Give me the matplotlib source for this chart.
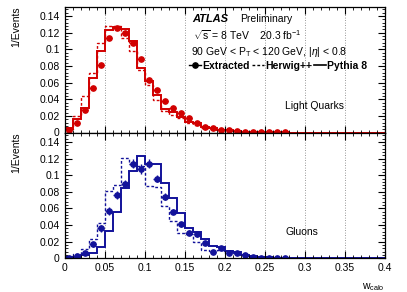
import numpy as np
import matplotlib
matplotlib.use("Agg")
import matplotlib.pyplot as plt
from matplotlib.lines import Line2D
from matplotlib.ticker import MultipleLocator, FuncFormatter

plt.rcParams['font.family'] = ['Liberation Sans', 'DejaVu Sans']
plt.rcParams['mathtext.fontset'] = 'custom'
plt.rcParams['mathtext.rm'] = 'Liberation Sans'
plt.rcParams['mathtext.it'] = 'Liberation Sans:italic'
plt.rcParams['mathtext.bf'] = 'Liberation Sans:bold'

# bins de w_calo: 40 bins de 0 a 0.4
edges = np.linspace(0, 0.4, 41)

# quarks leves
quark_pythia = [0.005, 0.016, 0.030, 0.065, 0.098, 0.123, 0.1265, 0.124, 0.1095, 0.077,
                0.062, 0.045, 0.028, 0.025, 0.019, 0.013, 0.011, 0.007, 0.005, 0.003,
                0.0025, 0.0015, 0.001, 0.0008, 0.0005, 0.0003, 0.0002, 0.0001, 0, 0,
                0, 0, 0, 0, 0, 0, 0, 0, 0, 0]
quark_herwig = [0.004, 0.020, 0.044, 0.072, 0.108, 0.128, 0.128, 0.113, 0.098, 0.075,
                0.057, 0.039, 0.026, 0.021, 0.018, 0.011, 0.009, 0.006, 0.004, 0.003,
                0.002, 0.0015, 0.001, 0.0006, 0.0004, 0.0003, 0.0002, 0.0001, 0, 0,
                0, 0, 0, 0, 0, 0, 0, 0, 0, 0]
quark_data = [0.003, 0.012, 0.027, 0.053, 0.081, 0.113, 0.125, 0.120, 0.108, 0.088,
              0.063, 0.051, 0.038, 0.029, 0.023, 0.017, 0.012, 0.007, 0.005, 0.003,
              0.0025, 0.0015, 0.001, 0.0008, 0.0006, 0.0004, 0.0003, 0.0002]
quark_err = [0.001, 0.0012, 0.0015, 0.0015, 0.0015, 0.0015, 0.0015, 0.0015, 0.0015, 0.0015,
             0.0015, 0.0012, 0.0012, 0.001, 0.001, 0.001, 0.001, 0.001, 0.0008, 0.0008,
             0.0005, 0.0005, 0.0005, 0.0005, 0.0003, 0.0003, 0.0003, 0.0003]

# gluons
gluon_pythia = [0.001, 0.002, 0.004, 0.006, 0.013, 0.033, 0.056, 0.085, 0.105, 0.123,
                0.114, 0.114, 0.091, 0.072, 0.054, 0.037, 0.032, 0.023, 0.015, 0.013,
                0.009, 0.007, 0.004, 0.003, 0.002, 0.001, 0.0005, 0.0003, 0, 0,
                0, 0, 0, 0, 0, 0, 0, 0, 0, 0]
gluon_herwig = [0.002, 0.005, 0.011, 0.023, 0.042, 0.081, 0.088, 0.121, 0.114, 0.111,
                0.087, 0.086, 0.063, 0.045, 0.031, 0.029, 0.020, 0.010, 0.009, 0.010,
                0.006, 0.006, 0.004, 0.002, 0.001, 0.0005, 0.0003, 0.0002, 0, 0,
                0, 0, 0, 0, 0, 0, 0, 0, 0, 0]
gluon_data = [0.000, 0.0028, 0.006, 0.017, 0.036, 0.057, 0.076, 0.089, 0.114, 0.108,
              0.114, 0.096, 0.074, 0.056, 0.041, 0.031, 0.029, 0.018, 0.008, 0.0125,
              0.006, 0.0058, 0.0035, 0.0015, 0.0005, 0.0003, 0.0001, 0.0002]
gluon_err = [0.001, 0.001, 0.002, 0.003, 0.004, 0.005, 0.005, 0.005, 0.005, 0.006,
             0.005, 0.004, 0.004, 0.003, 0.003, 0.003, 0.003, 0.002, 0.002, 0.002,
             0.001, 0.001, 0.001, 0.001, 0.0005, 0.0005, 0.0005, 0.0005]

centros = (edges[:-1] + edges[1:]) / 2

vermelho = '#d10000'
azul = '#12129a'

fig = plt.figure(figsize=(4.07, 2.92), dpi=100)
esq, larg = 64.5 / 407, 320.5 / 407
ax1 = fig.add_axes([esq, 1 - 132.5 / 292, larg, 125.8 / 292])
ax2 = fig.add_axes([esq, 1 - 258.3 / 292, larg, 125.5 / 292])

paineis = [
    (ax1, quark_pythia, quark_herwig, quark_data, quark_err, vermelho, 'Light Quarks'),
    (ax2, gluon_pythia, gluon_herwig, gluon_data, gluon_err, azul, 'Gluons'),
]

for ax, pyt, her, dados, err, cor, nome in paineis:
    ax.stairs(pyt, edges, color=cor, lw=1.4)
    ax.stairs(her, edges, color=cor, lw=1.0, ls=(0, (2, 1.5)))
    n = len(dados)
    ax.errorbar(centros[:n], dados, yerr=err, xerr=0.004, fmt='o', color=cor,
                ms=3.8, elinewidth=1.0, capsize=0)
    ax.set_xlim(0, 0.4)
    ax.set_ylim(0, 0.151)
    for xg in np.arange(0.05, 0.4, 0.05):
        ax.axvline(xg, color='#777777', ls=(0, (1, 2)), lw=0.6, zorder=0)
    ax.xaxis.set_major_locator(MultipleLocator(0.05))
    ax.xaxis.set_minor_locator(MultipleLocator(0.01))
    ax.yaxis.set_major_locator(MultipleLocator(0.02))
    ax.yaxis.set_minor_locator(MultipleLocator(0.004))
    ax.tick_params(which='both', direction='in', top=True, right=True, labelsize=7.5)
    ax.tick_params(which='major', length=5, width=0.8)
    ax.tick_params(which='minor', length=2.5, width=0.6)
    ax.yaxis.set_major_formatter(FuncFormatter(lambda v, p: '%g' % round(v, 3)))
    ax.xaxis.set_major_formatter(FuncFormatter(lambda v, p: '%g' % round(v, 3)))
    ax.set_ylabel('1/Events', fontsize=7.5, ha='right')
    ax.yaxis.set_label_coords(-0.134, 1.0)
    ax.text(0.688, 0.21, nome, transform=ax.transAxes, fontsize=7.5, va='center')
    for s in ax.spines.values():
        s.set_linewidth(0.9)

ax1.tick_params(labelbottom=False)
ax2.set_xlabel(r'w$_{\mathrm{calo}}$', fontsize=7.5, loc='right', labelpad=6)

ax1.text(0.398, 0.902, 'ATLAS', transform=ax1.transAxes, fontsize=8,
         fontweight='bold', fontstyle='italic', va='center')
ax1.text(0.548, 0.902, 'Preliminary', transform=ax1.transAxes, fontsize=7.5, va='center')
ax1.text(0.400, 0.775, r'$\sqrt{\mathrm{s}}$ = 8 TeV    20.3 fb$^{\mathrm{-1}}$',
         transform=ax1.transAxes, fontsize=7.5, va='center')
ax1.text(0.394, 0.64, r'90 GeV < P$_{\mathrm{T}}$ < 120 GeV, |$\eta$| < 0.8',
         transform=ax1.transAxes, fontsize=7.5, va='center')

handles = [Line2D([], [], color='k', marker='o', ms=3.8, lw=1.0),
           Line2D([], [], color='k', lw=1.0, ls=(0, (2, 1.5))),
           Line2D([], [], color='k', lw=1.2)]
ax1.legend(handles, ['Extracted', 'Herwig++', 'Pythia 8'], ncol=3, frameon=False,
           loc='center left', bbox_to_anchor=(0.39, 0.529), borderpad=0, borderaxespad=0,
           handlelength=1.1, handletextpad=0.15, columnspacing=0.2,
           prop={'weight': 'bold', 'size': 7.5})

fig.savefig('out.png', dpi=100)
